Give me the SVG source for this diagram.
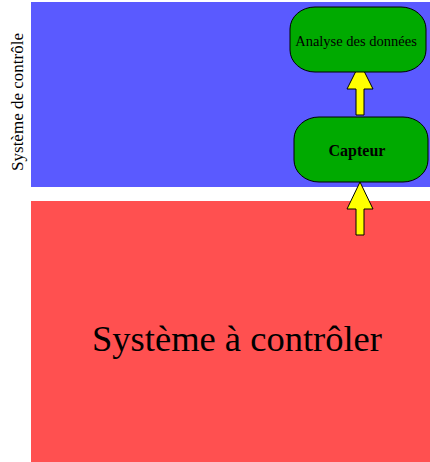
<svg xmlns="http://www.w3.org/2000/svg" width="430" height="462" viewBox="0 0 430 462">
  <style>
    .node rect { fill: #00aa00; stroke: #000; stroke-width: 1; }
    .arrow { fill: #ffff00; stroke: #000; stroke-width: 1; stroke-linejoin: miter; }
    text { font-family: "Liberation Serif", "Times New Roman", serif; fill: #000; }
  </style>
  <!-- zones -->
  <g id="zone-controle">
    <rect x="31" y="2" width="399" height="185" fill="#5a5aff"/>
    <text x="0" y="0" font-size="17" text-anchor="middle" transform="translate(23,102) rotate(-90)">Système de contrôle</text>
  </g>
  <g id="zone-a-controler">
    <rect x="31" y="201" width="399" height="261" fill="#ff5050"/>
    <text x="237" y="351" font-size="36.5" text-anchor="middle">Système à contrôler</text>
  </g>
  <!-- connectors -->
  <g id="connectors">
    <path class="arrow" d="M356,115 L356,89 L347,89 L360,63 L373,89 L364,89 L364,115 Z"/>
    <path class="arrow" d="M356,235 L356,209 L347,209 L360,182 L373,209 L364,209 L364,235 Z"/>
  </g>
  <!-- nodes -->
  <g id="analyse" class="node">
    <rect x="290" y="7" width="136" height="65" rx="25" ry="22"/>
    <text x="356" y="46" font-size="14.5" text-anchor="middle">Analyse des données</text>
  </g>
  <g id="capteur" class="node">
    <rect x="294" y="117" width="134" height="65" rx="25" ry="22"/>
    <text x="357" y="156" font-size="16" font-weight="bold" text-anchor="middle">Capteur</text>
  </g>
</svg>
